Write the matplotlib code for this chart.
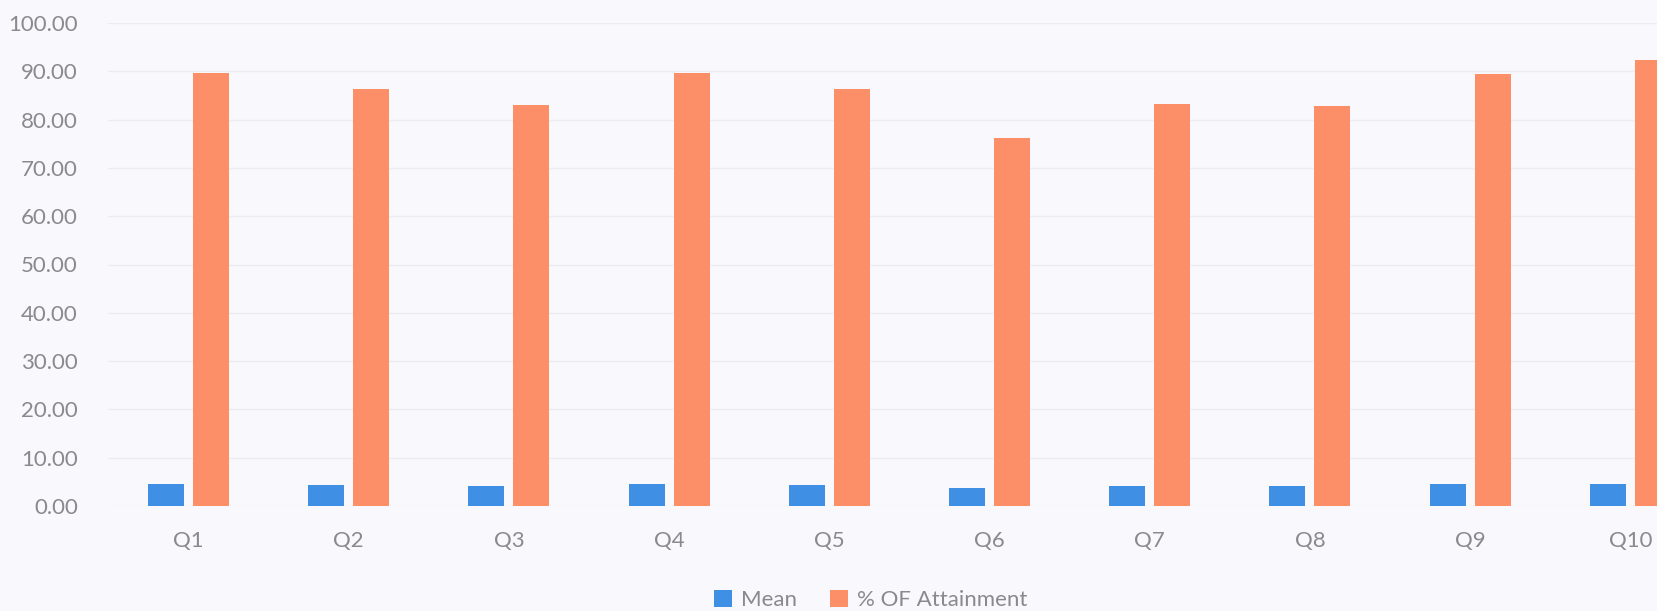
import numpy as np
import matplotlib
matplotlib.use("Agg")
import matplotlib.pyplot as plt

# Datos
questions = ["Q1", "Q2", "Q3", "Q4", "Q5", "Q6", "Q7", "Q8", "Q9", "Q10"]
mean_vals = [4.49, 4.32, 4.15, 4.49, 4.32, 3.81, 4.16, 4.14, 4.47, 4.62]
attainment = [89.7, 86.3, 83.1, 89.7, 86.4, 76.2, 83.2, 82.8, 89.4, 92.4]

plt.rcParams["font.family"] = ["Lato", "DejaVu Sans"]

bg = "#f9f9fd"
fig = plt.figure(figsize=(16.57, 6.11), dpi=100, facecolor=bg)
ax = fig.add_axes([108.4 / 1657, 1 - 506 / 611, 1602 / 1657, (506 - 23) / 611])
ax.set_facecolor(bg)

x = np.arange(len(questions))
w = 0.225
ax.bar(x - 0.14, mean_vals, w, color="#3f8fe4", label="Mean", zorder=3)
ax.bar(x + 0.14, attainment, w, color="#fd8f68", label="% OF Attainment", zorder=3)

ax.set_xlim(-0.5, 9.5)
ax.set_ylim(0, 100)
ax.set_yticks(np.arange(0, 101, 10))
ax.set_yticklabels([f"{v:.2f}" for v in np.arange(0, 101, 10)])
ax.set_xticks(x)
ax.set_xticklabels(questions)
ax.tick_params(axis="both", length=0, labelsize=16, colors="#8a8a8e")
ax.tick_params(axis="y", pad=22)
ax.tick_params(axis="x", pad=18)
ax.grid(axis="y", color="#ececf2", linewidth=1, zorder=0)
for s in ax.spines.values():
    s.set_visible(False)

fig.legend(loc="center", bbox_to_anchor=(871 / 1657, 1 - 600 / 611), ncol=2,
           frameon=False, fontsize=16, labelcolor="#8a8a8e", handlelength=0.8,
           handleheight=0.8, columnspacing=1.5, handletextpad=0.4)

fig.savefig("out.png", dpi=100, facecolor=bg)
